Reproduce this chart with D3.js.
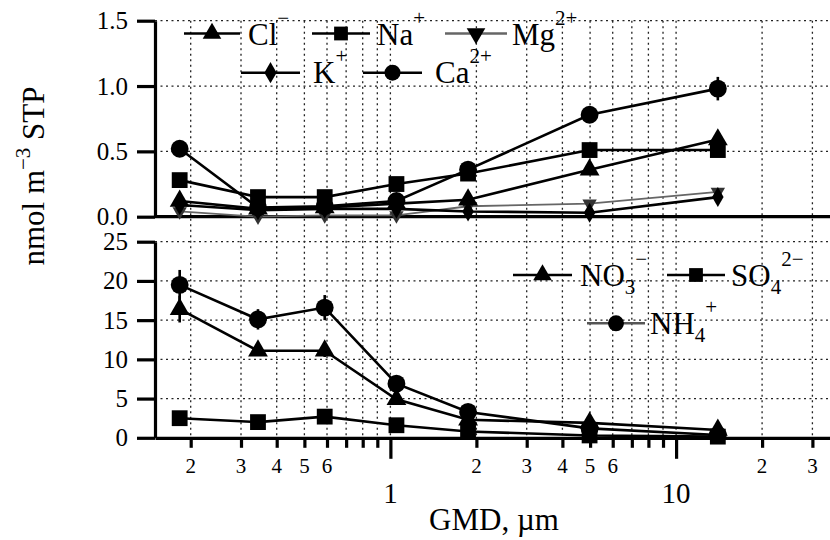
<!DOCTYPE html>
<html>
<head>
<meta charset="utf-8">
<script src="https://cdn.jsdelivr.net/npm/d3@7"></script>
<style>
  html, body { margin: 0; padding: 0; background: #fff; }
  svg { display: block; }
  svg text { font-family: "Liberation Serif", "Times New Roman", serif !important; fill: #000; }
</style>
</head>
<body>
<svg id="chart" width="830" height="540"></svg>
<script>
// ---------------- DATA ----------------
const gmd = [0.183, 0.344, 0.589, 1.05, 1.87, 4.98, 14.0];

// top panel (nmol m^-3 STP)
const cl = [0.12, 0.06, 0.07, 0.10, 0.13, 0.36, 0.59];
const na = [0.28, 0.15, 0.15, 0.25, 0.33, 0.51, 0.51];
const mg = [0.04, 0.00, 0.01, 0.01, 0.08, 0.10, 0.19];
const kk = [0.09, 0.05, 0.06, 0.06, 0.04, 0.03, 0.15];
const ca = [0.52, 0.07, 0.08, 0.12, 0.36, 0.78, 0.98];
const caErr = [0.02, 0.02, 0.02, 0.02, 0.03, 0.05, 0.09];
const clErr = [0.03, 0.01, 0.01, 0.02, 0.02, 0.03, 0.06];

// bottom panel
const nh4 = [19.5, 15.1, 16.6, 6.9, 3.3, 1.2, 0.35];
const no3 = [16.4, 11.1, 11.1, 4.9, 2.3, 1.9, 1.0];
const so4 = [2.5, 2.0, 2.7, 1.6, 0.8, 0.3, 0.15];
const nh4Err = [1.9, 1.3, 1.6, 0.6, 0.4, 0.3, 0.2];
const no3Err = [1.7, 0.6, 0.8, 0.6, 0.3, 0.5, 0.7];

// ticks
const topTicks = [0, 0.5, 1.0, 1.5];
const topTickLabels = ["0.0", "0.5", "1.0", "1.5"];
const botTicks = [0, 5, 10, 15, 20, 25];
const botTickLabels = ["0", "5", "10", "15", "20", "25"];
const xMinorLabelled = [0.2, 0.3, 0.4, 0.5, 0.6, 2, 3, 4, 5, 6, 20, 30];
const xMinorText = ["2", "3", "4", "5", "6", "2", "3", "4", "5", "6", "2", "3"];
const xMajor = [1, 10];

// ---------------- SCALES ----------------
const svg = d3.select("#chart");
const x0 = 155, decade = 285.7;
const x = d3.scaleLog().domain([0.15, 40]).range([x0, x0 + decade * Math.log10(40 / 0.15)]);
const yTop = d3.scaleLinear().domain([0, 1.5]).range([216.7, 20.7]);
const yBot = d3.scaleLinear().domain([0, 25]).range([437.8, 241.7]);
const W = 830;

// ---------------- GRID ----------------
const grid = svg.append("g").attr("stroke", "#222").attr("stroke-width", 1.3)
  .attr("stroke-dasharray", "2,3.5").attr("fill", "none");
x.ticks().filter(t => x(t) < W).forEach(t => {
  grid.append("line").attr("x1", x(t)).attr("x2", x(t)).attr("y1", yTop(1.5)).attr("y2", yBot(0));
});
[0.5, 1.0, 1.5].forEach(v => grid.append("line").attr("x1", x0).attr("x2", W).attr("y1", yTop(v)).attr("y2", yTop(v)));
[5, 10, 15, 20, 25].forEach(v => grid.append("line").attr("x1", x0).attr("x2", W).attr("y1", yBot(v)).attr("y2", yBot(v)));

// ---------------- AXES ----------------
function yAxis(scale, ticks, labels) {
  const g = svg.append("g").attr("transform", `translate(${x0},0)`)
    .call(d3.axisLeft(scale).tickValues(ticks).tickSize(18).tickSizeOuter(0).tickPadding(9)
      .tickFormat((d, i) => labels[i]));
  g.attr("font-family", null);
  g.select(".domain").attr("stroke-width", 3.2);
  g.selectAll(".tick line").attr("stroke-width", 3.2);
  g.selectAll(".tick text").attr("font-size", 25);
  return g;
}
yAxis(yTop, topTicks, topTickLabels);
yAxis(yBot, botTicks, botTickLabels);

// top panel baseline
svg.append("line").attr("x1", x0).attr("x2", W).attr("y1", yTop(0)).attr("y2", yTop(0))
  .attr("stroke", "#000").attr("stroke-width", 3.2);

// bottom x axis
const xa = svg.append("g").attr("transform", `translate(0,${yBot(0)})`)
  .call(d3.axisBottom(x).tickValues(x.ticks().filter(t => x(t) < W)).tickSize(10).tickSizeOuter(0).tickFormat(""));
xa.select(".domain").attr("stroke-width", 3.2);
xa.selectAll(".tick line").attr("stroke-width", 3.2)
  .attr("y2", d => xMajor.includes(d) ? 21 : 10);
xMinorLabelled.forEach((v, i) => {
  svg.append("text").attr("x", x(v)).attr("y", 473).attr("text-anchor", "middle")
    .attr("font-size", 21).text(xMinorText[i]);
});
xMajor.forEach(v => {
  svg.append("text").attr("x", x(v)).attr("y", 503).attr("text-anchor", "middle")
    .attr("font-size", 29).text(String(v));
});
svg.append("text").attr("x", 494).attr("y", 530).attr("text-anchor", "middle")
  .attr("font-size", 31).text("GMD, \u00b5m");

// y title
const yt = svg.append("text").attr("transform", "translate(44,176) rotate(-90)")
  .attr("text-anchor", "middle").attr("font-size", 31);
yt.append("tspan").text("nmol m");
yt.append("tspan").attr("dy", -14).attr("font-size", 21).text("\u22123");
yt.append("tspan").attr("dy", 14).text(" STP");

// ---------------- SERIES ----------------
const sym = {
  tri: d3.symbol().type(d3.symbolTriangle).size(170)(),
  sq: d3.symbol().type(d3.symbolSquare).size(250)(),
  circ: d3.symbol().type(d3.symbolCircle).size(250)(),
  dia: d3.symbol().type(d3.symbolDiamond).size(115)(),
  itri: d3.symbol().type(d3.symbolTriangle).size(90)()
};

function drawSeries(yScale, vals, opt) {
  const pts = vals.map((v, i) => [gmd[i], v]);
  const line = d3.line().x(d => x(d[0])).y(d => yScale(d[1]));
  svg.append("path").attr("d", line(pts)).attr("fill", "none")
    .attr("stroke", opt.color).attr("stroke-width", opt.width || 2.6);
  if (opt.err) {
    pts.forEach((p, i) => {
      svg.append("line").attr("x1", x(p[0])).attr("x2", x(p[0]))
        .attr("y1", yScale(Math.max(0, p[1] - opt.err[i]))).attr("y2", yScale(p[1] + opt.err[i]))
        .attr("stroke", opt.color).attr("stroke-width", 2.6);
    });
  }
  pts.forEach(p => {
    svg.append("path").attr("d", opt.shape)
      .attr("transform", `translate(${x(p[0])},${yScale(p[1])})${opt.rot ? " rotate(180)" : ""}`)
      .attr("fill", opt.fill || "#000");
  });
}

drawSeries(yTop, mg, { shape: sym.itri, rot: true, color: "#666", width: 1.8, fill: "#333" });
drawSeries(yTop, kk, { shape: sym.dia, color: "#000" });
drawSeries(yTop, cl, { shape: sym.tri, color: "#000", err: clErr });
drawSeries(yTop, na, { shape: sym.sq, color: "#000" });
drawSeries(yTop, ca, { shape: sym.circ, color: "#000", err: caErr });

drawSeries(yBot, so4, { shape: sym.sq, color: "#000" });
drawSeries(yBot, no3, { shape: sym.tri, color: "#000", err: no3Err });
drawSeries(yBot, nh4, { shape: sym.circ, color: "#000", err: nh4Err });

// ---------------- LEGENDS ----------------
const lsym = {
  tri: d3.symbol().type(d3.symbolTriangle).size(150)(),
  sq: d3.symbol().type(d3.symbolSquare).size(190)(),
  circ: d3.symbol().type(d3.symbolCircle).size(200)(),
  dia: d3.symbol().type(d3.symbolDiamond).size(130)(),
  itri: d3.symbol().type(d3.symbolTriangle).size(150)()
};
function legendItem(x1, x2, y, shape, rot, color, parts, tx, base) {
  svg.append("line").attr("x1", x1).attr("x2", x2).attr("y1", y).attr("y2", y)
    .attr("stroke", color).attr("stroke-width", 2.6);
  svg.append("path").attr("d", shape)
    .attr("transform", `translate(${(x1 + x2) / 2},${y})${rot ? " rotate(180)" : ""}`).attr("fill", "#000");
  const t = svg.append("text").attr("x", tx).attr("y", base).attr("font-size", 31);
  let cur = 0;
  parts.forEach(p => {
    const sp = t.append("tspan").text(p.t);
    if (p.sup) { sp.attr("dy", -20 - cur).attr("font-size", 21); cur = -20; }
    else if (p.sub) { sp.attr("dy", 8 - cur).attr("font-size", 21); cur = 8; }
    else { if (cur) sp.attr("dy", -cur); cur = 0; }
  });
}
// top legend
legendItem(184, 240, 33.5, lsym.tri, false, "#000", [{ t: "Cl" }, { t: "\u2212", sup: true }], 248, 45);
legendItem(312, 370, 33.5, lsym.sq, false, "#000", [{ t: "Na" }, { t: "+", sup: true }], 377, 45);
legendItem(445, 507, 33.5, lsym.itri, true, "#666", [{ t: "Mg" }, { t: "2+", sup: true }], 512, 45);
legendItem(241, 300, 72.7, lsym.dia, false, "#000", [{ t: "K" }, { t: "+", sup: true }], 313, 83);
legendItem(363, 422, 72.7, lsym.circ, false, "#000", [{ t: "Ca" }, { t: "2+", sup: true }], 435, 83);
// bottom legend
legendItem(513, 572, 275, lsym.tri, false, "#000", [{ t: "NO" }, { t: "3", sub: true }, { t: "\u2212", sup: true }], 580, 286);
legendItem(667, 725, 275, lsym.sq, false, "#000", [{ t: "SO" }, { t: "4", sub: true }, { t: "2\u2212", sup: true }], 731, 286);
legendItem(587, 645, 323.3, lsym.circ, false, "#555", [{ t: "NH" }, { t: "4", sub: true }, { t: "+", sup: true }], 650, 334);
</script>
</body>
</html>
